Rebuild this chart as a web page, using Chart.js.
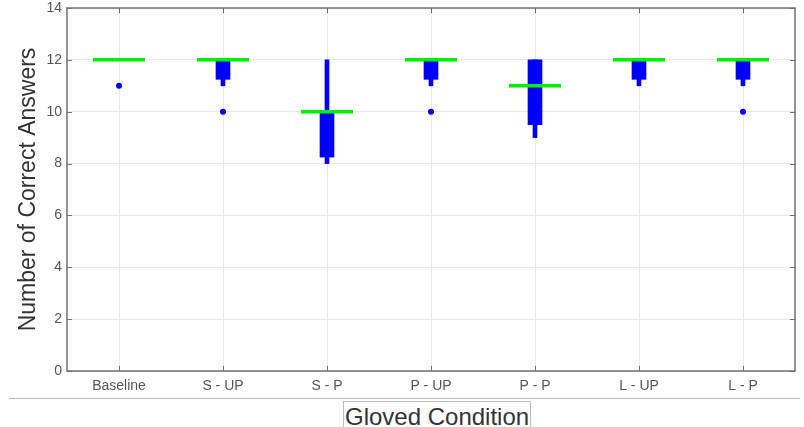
<!DOCTYPE html>
<html>
<head>
<meta charset="utf-8">
<script src="https://cdn.jsdelivr.net/npm/chart.js@4/dist/chart.umd.min.js"></script>
<style>
    body { margin: 0; background: #fff; font-family: "Liberation Sans", Arial, sans-serif; }
    #wrap { position: relative; width: 804px; height: 427px; overflow: hidden; }
    #chartBox { position: absolute; left: 0; top: 0; width: 804px; height: 398px; }
    #rule { position: absolute; left: 9px; top: 398px; width: 791px; border-top: 1px solid #b5b5b5; }
    #xTitle {
        position: absolute; left: 343px; top: 401px;
        border: 1px solid #bdbdbd; padding: 0 1px;
        font-size: 24px; line-height: 30px; color: #333;
    }
</style>
</head>
<body>
<div id="wrap">
    <div id="chartBox"><canvas id="boxChart"></canvas></div>
    <div id="rule"></div>
    <div id="xTitle">Gloved Condition</div>
</div>
<script>
// Box plot values per gloved condition
const categories = ['Baseline', 'S - UP', 'S - P', 'P - UP', 'P - P', 'L - UP', 'L - P'];
const medians = [12, 12, 10, 12, 11, 12, 12];
const q1 = [12, 11.25, 8.25, 11.25, 9.5, 11.25, 11.25];
const q3 = [12, 12, 10, 12, 12, 12, 12];
const whiskerLow = [12, 11, 8, 11, 9, 11, 11];
const whiskerHigh = [12, 12, 12, 12, 12, 12, 12];
const outliers = [11, 10, null, 10, null, null, 10];
const yTicks = [0, 2, 4, 6, 8, 10, 12, 14];

const BLUE = '#0000ff';
const GREEN = '#00f000';
const AXIS = '#707070';

// Frame + inward tick marks (MATLAB style box)
const framePlugin = {
    id: 'frame',
    afterDraw(chart) {
        const { ctx, chartArea: a, scales } = chart;
        ctx.save();
        ctx.strokeStyle = AXIS;
        ctx.lineWidth = 1.5;
        ctx.strokeRect(a.left, a.top, a.right - a.left, a.bottom - a.top);
        ctx.lineWidth = 1;
        const len = 5;
        yTicks.forEach(v => {
            const y = Math.round(scales.y.getPixelForValue(v)) + 0.5;
            ctx.beginPath();
            ctx.moveTo(a.left, y); ctx.lineTo(a.left + len, y);
            ctx.moveTo(a.right, y); ctx.lineTo(a.right - len, y);
            ctx.stroke();
        });
        categories.forEach((c, i) => {
            const x = Math.round(scales.x.getPixelForValue(i)) + 0.5;
            ctx.beginPath();
            ctx.moveTo(x, a.bottom); ctx.lineTo(x, a.bottom - len);
            ctx.moveTo(x, a.top); ctx.lineTo(x, a.top + len);
            ctx.stroke();
        });
        ctx.restore();
    }
};

const ctx = document.getElementById('boxChart').getContext('2d');
new Chart(ctx, {
    type: 'bar',
    data: {
        labels: categories,
        datasets: [
            {
                type: 'line',
                label: 'Median',
                data: medians,
                showLine: false,
                pointStyle: 'line',
                pointRadius: 26,
                pointBorderWidth: 3.5,
                borderColor: GREEN,
                backgroundColor: GREEN,
                clip: false,
                order: 0
            },
            {
                type: 'line',
                label: 'Outliers',
                data: outliers,
                showLine: false,
                pointRadius: 3,
                pointBorderWidth: 0,
                backgroundColor: BLUE,
                borderColor: BLUE,
                order: 1
            },
            {
                label: 'Box',
                data: categories.map((c, i) => [q1[i], q3[i]]),
                backgroundColor: BLUE,
                barThickness: 14,
                grouped: false,
                borderSkipped: false,
                order: 2
            },
            {
                label: 'Whisker',
                data: categories.map((c, i) => [whiskerLow[i], whiskerHigh[i]]),
                backgroundColor: BLUE,
                barThickness: 4,
                grouped: false,
                borderSkipped: false,
                order: 3
            }
        ]
    },
    options: {
        responsive: true,
        maintainAspectRatio: false,
        animation: false,
        devicePixelRatio: 1,
        layout: { autoPadding: false, padding: { left: 0, right: 9, top: 8, bottom: 0 } },
        plugins: {
            legend: { display: false },
            tooltip: { enabled: false }
        },
        scales: {
            x: {
                type: 'category',
                offset: true,
                grid: { offset: false, color: '#e8e8e8', drawTicks: false },
                border: { display: false },
                ticks: {
                    color: '#555',
                    padding: 7,
                    font: { family: 'Liberation Sans', size: 14 }
                },
                afterFit(scale) {
                    scale.height = 27;
                    scale.paddingLeft = 0;
                    scale.paddingRight = 0;
                }
            },
            y: {
                min: 0,
                max: 14,
                grid: { color: '#e8e8e8', drawTicks: false },
                border: { display: false },
                ticks: {
                    stepSize: 2,
                    color: '#555',
                    padding: 5,
                    font: { family: 'Liberation Sans', size: 14 }
                },
                title: {
                    display: true,
                    text: 'Number of Correct Answers',
                    color: '#333',
                    padding: { top: 15, bottom: 0 },
                    font: { family: 'Liberation Sans', size: 23 }
                },
                afterFit(scale) {
                    scale.width = 67;
                    scale.paddingTop = 0;
                    scale.paddingBottom = 0;
                }
            }
        }
    },
    plugins: [framePlugin]
});
</script>
</body>
</html>
